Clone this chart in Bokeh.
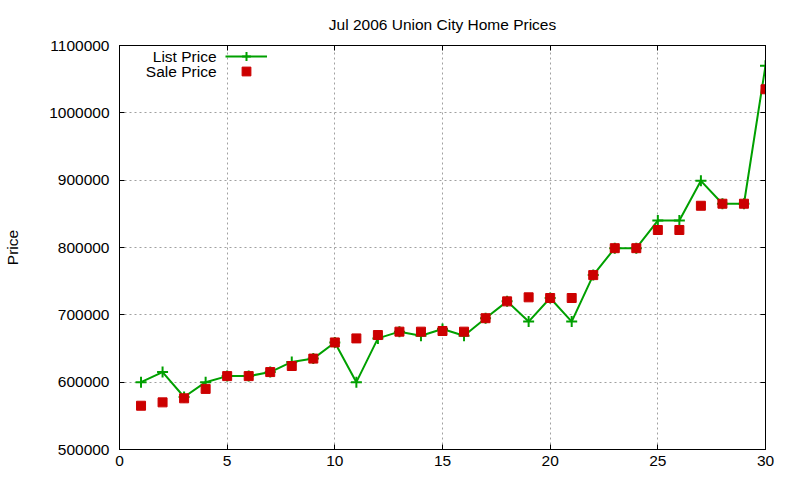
from bokeh.plotting import figure
from bokeh.models import (FixedTicker, BasicTickFormatter, LinearAxis, Legend,
                          LegendItem, Label, CustomJSTickFormatter)
from bokeh.embed import file_html
from bokeh.resources import INLINE

# July 2006, day of month
days = [1, 2, 3, 4, 5, 6, 7, 8, 9, 10, 11, 12, 13, 14, 15,
        16, 17, 18, 19, 20, 21, 22, 23, 24, 25, 26, 27, 28, 29, 30]
list_price = [600000, 615000, 578000, 600000, 609000, 609000, 615000, 630000,
              635000, 659000, 600000, 665000, 675000, 669000, 679000, 669000,
              695000, 720000, 690000, 725000, 690000, 759000, 799000, 799000,
              840000, 840000, 899000, 865000, 865000, 1070000]
sale_price = [565000, 570000, 576000, 590000, 609000, 609000, 615000, 624000,
              635000, 659000, 665000, 670000, 675000, 675000, 676000, 675000,
              695000, 720000, 726000, 725000, 725000, 759000, 799000, 799000,
              826000, 826000, 862000, 865000, 865000, 1035000]
x_ticks = [0, 5, 10, 15, 20, 25, 30]
y_ticks = [500000, 600000, 700000, 800000, 900000, 1000000, 1100000]

FONT = "Liberation Sans"
FS = "15.5px"
GREEN = "#00a000"
RED = "#cc0000"

p = figure(width=792, height=472, x_range=(0, 30), y_range=(500000, 1100000),
           output_backend="svg", toolbar_location=None,
           min_border_left=119, min_border_right=27,
           min_border_top=45, min_border_bottom=23,
           title="Jul 2006 Union City Home Prices")

p.title.align = "center"
p.title.text_font = FONT
p.title.text_font_size = FS
p.title.text_font_style = "normal"
p.title.text_color = "black"
p.title.standoff = 25

p.outline_line_color = "black"
p.background_fill_color = "white"
p.border_fill_color = "white"


def style_axis(ax, ticks, size=FS):
    ax.ticker = FixedTicker(ticks=ticks)
    ax.major_tick_in = 5
    ax.major_tick_out = 0
    ax.minor_tick_in = 0
    ax.minor_tick_out = 0
    ax.axis_line_color = "black"
    ax.major_tick_line_color = "black"
    ax.major_label_text_font = FONT
    ax.major_label_text_font_size = size
    ax.major_label_text_color = "black"


style_axis(p.xaxis[0], x_ticks)
p.xaxis.major_label_standoff = 6
style_axis(p.yaxis[0], y_ticks)
p.yaxis.formatter = BasicTickFormatter(use_scientific=False)
p.yaxis.major_label_standoff = 10
p.yaxis.axis_label = "Price"
p.yaxis.axis_label_text_font = FONT
p.yaxis.axis_label_text_font_size = FS
p.yaxis.axis_label_text_font_style = "normal"
p.yaxis.axis_label_text_color = "black"
p.yaxis.axis_label_standoff = 25

# mirrored ticks on the top and right borders
blank = CustomJSTickFormatter(code="return ''")
top = LinearAxis(formatter=blank, major_label_standoff=0)
style_axis(top, x_ticks, "1px")
p.add_layout(top, "above")
right = LinearAxis(formatter=blank, major_label_standoff=0)
style_axis(right, y_ticks, "1px")
p.add_layout(right, "right")

for g in (p.xgrid, p.ygrid):
    g.grid_line_color = "#a0a0a0"
    g.grid_line_dash = "2 3"
    g.grid_line_width = 1
p.xgrid.ticker = FixedTicker(ticks=x_ticks[1:-1])
p.ygrid.ticker = FixedTicker(ticks=y_ticks[1:-1])

ln = p.line(days, list_price, line_color=GREEN, line_width=2)
cr = p.scatter(days, list_price, marker="cross", size=11, line_color=GREEN,
               line_width=2)
sq = p.scatter(days, sale_price, marker="square", size=9, fill_color=RED,
               line_color=RED)

# gnuplot style key: text on the left, sample on the right
key = [("List Price", [ln, cr], 382, 393), ("Sale Price", [sq], 367, 378)]
for txt, rends, ly, ty in key:
    p.add_layout(Legend(items=[LegendItem(label=" ", renderers=rends)],
                        location=(106, ly), padding=0, spacing=0, margin=0,
                        glyph_width=42, glyph_height=22, label_height=22,
                        label_width=0, label_standoff=0,
                        border_line_color=None, background_fill_alpha=0))
    p.add_layout(Label(x=97, y=ty, x_units="screen", y_units="screen",
                       text=txt, text_align="right", text_baseline="middle",
                       text_font=FONT, text_font_size=FS, text_color="black"))

open("out.html", "w").write(file_html(p, INLINE))
